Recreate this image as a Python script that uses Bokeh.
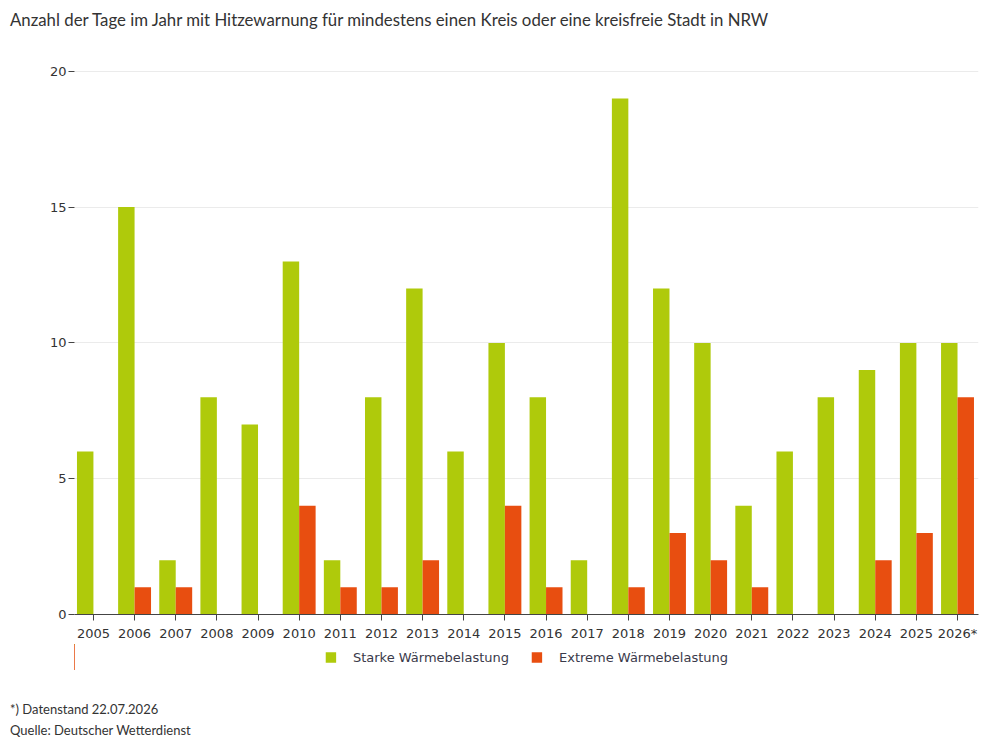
from bokeh.plotting import figure
from bokeh.models import (ColumnDataSource, Range1d, FixedTicker, Legend, LegendItem, Div, BoxAnnotation)
from bokeh.layouts import column
from bokeh.transform import dodge
from bokeh.embed import file_html
from bokeh.resources import INLINE

years = ["2005", "2006", "2007", "2008", "2009", "2010", "2011", "2012", "2013", "2014", "2015",
         "2016", "2017", "2018", "2019", "2020", "2021", "2022", "2023", "2024", "2025", "2026*"]
starke = [6, 15, 2, 8, 7, 13, 2, 8, 12, 6, 10, 8, 2, 19, 12, 10, 4, 6, 8, 9, 10, 10]
extreme = [0, 1, 1, 0, 0, 4, 1, 1, 2, 0, 4, 1, 0, 1, 3, 2, 1, 0, 0, 2, 3, 8]
y_ticks = [0, 5, 10, 15, 20]
series_names = ["Starke Wärmebelastung", "Extreme Wärmebelastung"]

title_text = "Anzahl der Tage im Jahr mit Hitzewarnung für mindestens einen Kreis oder eine kreisfreie Stadt in NRW"
footer1 = "*) Datenstand 22.07.2026"
footer2 = "Quelle: Deutscher Wetterdienst"

GREEN = "#afca0b"
RED = "#e84e10"
TXT = "#333333"

idx = list(range(len(years)))
src = ColumnDataSource(data=dict(x=idx, starke=starke, extreme=extreme))

title_div = Div(text=title_text, width=990, height=40, margin=0,
                styles={"font-family": "Lato", "font-size": "16.8px", "color": TXT,
                        "line-height": "40px", "padding-left": "10px", "white-space": "nowrap"})

p = figure(frame_width=904, frame_height=550, output_backend="svg", toolbar_location=None,
           x_range=Range1d(-0.46, 21.51), y_range=Range1d(0, 20.25),
           min_border_left=74, min_border_right=14, min_border_top=24, min_border_bottom=30,
           margin=0)
p.outline_line_color = None
p.background_fill_color = "white"
p.border_fill_color = "white"

p.vbar(x=dodge("x", -0.2, range=p.x_range), top="starke", width=0.4, source=src,
       fill_color=GREEN, line_color=None)
p.vbar(x=dodge("x", 0.2, range=p.x_range), top="extreme", width=0.4, source=src,
       fill_color=RED, line_color=None)

# x axis
p.xaxis.ticker = FixedTicker(ticks=idx)
p.xaxis.major_label_overrides = {i: y for i, y in enumerate(years)}
p.xaxis.axis_line_color = "#444444"
p.xaxis.axis_line_width = 1
p.xaxis.major_tick_line_color = "#444444"
p.xaxis.major_tick_out = 6
p.xaxis.major_tick_in = 0
p.xaxis.minor_tick_line_color = None
p.xaxis.major_label_text_font = "DejaVu Sans"
p.xaxis.major_label_text_font_size = "13px"
p.xaxis.major_label_text_color = TXT
p.xaxis.major_label_standoff = 5
p.xgrid.grid_line_color = None

# y axis
p.yaxis.ticker = FixedTicker(ticks=y_ticks)
p.yaxis.axis_line_color = None
p.yaxis.major_tick_line_color = "#444444"
p.yaxis.major_tick_out = 6
p.yaxis.major_tick_in = 0
p.yaxis.minor_tick_line_color = None
p.yaxis.major_label_text_font = "DejaVu Sans"
p.yaxis.major_label_text_font_size = "13px"
p.yaxis.major_label_text_color = TXT
p.yaxis.major_label_standoff = 2
p.ygrid.grid_line_color = "#ebebeb"
p.ygrid.ticker = FixedTicker(ticks=y_ticks)

# legend strip below the chart (below-panel legends get oversized in this setup);
# its renderers share the data source, are kept out of view and covered by a white box
lg = figure(frame_width=904, frame_height=26, output_backend="svg", toolbar_location=None,
            x_range=Range1d(1000, 1001), y_range=Range1d(0, 1),
            min_border_left=74, min_border_right=14, min_border_top=0, min_border_bottom=0,
            margin=0)
lg.outline_line_color = None
lg.axis.visible = False
lg.grid.visible = False
lg_g = lg.vbar(x=dodge("x", -0.2, range=lg.x_range), top="starke", width=0.4, source=src,
               fill_color=GREEN, line_color=None)
lg_r = lg.vbar(x=dodge("x", 0.2, range=lg.x_range), top="extreme", width=0.4, source=src,
               fill_color=RED, line_color=None)
cover = BoxAnnotation(fill_color="white", fill_alpha=1.0, line_color=None, line_alpha=0)
lg.add_layout(cover)
legend = Legend(items=[LegendItem(label=series_names[0], renderers=[lg_g]),
                       LegendItem(label=series_names[1], renderers=[lg_r])],
                orientation="horizontal", location="center",
                label_text_font="DejaVu Sans", label_text_font_size="13px",
                label_text_color="#3a3a4a", glyph_width=13, glyph_height=13,
                label_standoff=16, spacing=21, border_line_color=None,
                background_fill_alpha=0, padding=0, margin=0)
lg.add_layout(legend, "center")

foot = Div(text=f"{footer1}<br>{footer2}", width=990, margin=0,
           styles={"font-family": "Lato", "font-size": "13px", "color": TXT,
                   "line-height": "21px", "padding-left": "10px", "padding-top": "29px"})

open("out.html", "w").write(file_html(column(title_div, p, lg, foot, spacing=0), INLINE))
